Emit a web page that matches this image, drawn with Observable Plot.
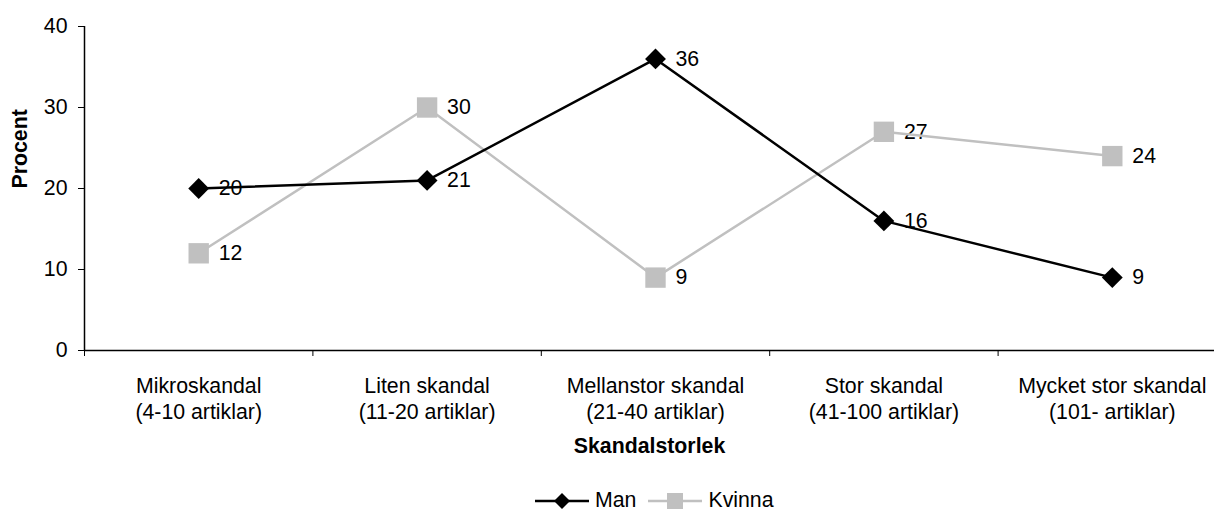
<!DOCTYPE html>
<html>
<head>
<meta charset="utf-8">
<script src="https://cdn.jsdelivr.net/npm/d3@7"></script>
<script src="https://cdn.jsdelivr.net/npm/@observablehq/plot@0.6"></script>
<style>
  html, body { margin: 0; padding: 0; background: #fff; overflow: hidden; width: 1214px; height: 513px; }
  body { font-family: "Liberation Sans", Arial, sans-serif; }
  #chart svg { display: block; }
  #legend { display: flex; align-items: center; padding-left: 535px; padding-top: 20px; height: 21px; font-size: 21.3px; line-height: 21px; color: #000; }
  #legend .item { display: flex; align-items: center; height: 21px; }
  #legend .item svg { display: block; }
  #legend .item span { margin-left: 6px; margin-right: 12px; line-height: 21px; }
</style>
</head>
<body>
<div id="chart"></div>
<div id="legend"></div>
<script>
const categories = [
  "Mikroskandal\n(4-10 artiklar)",
  "Liten skandal\n(11-20 artiklar)",
  "Mellanstor skandal\n(21-40 artiklar)",
  "Stor skandal\n(41-100 artiklar)",
  "Mycket stor skandal\n(101- artiklar)"
];
const man = [20, 21, 36, 16, 9];
const kvinna = [12, 30, 9, 27, 24];
const yTicks = [0, 10, 20, 30, 40];
const seriesNames = ["Man", "Kvinna"];
const seriesColors = ["#000000", "#c0c0c0"];
const xTitle = "Skandalstorlek";
const yTitle = "Procent";

const data = categories.map((c, i) => ({i, c, man: man[i], kvinna: kvinna[i]}));
const idx = categories.map((_, i) => i);
const boundaries = [-0.5, ...idx.map(i => i + 0.5)];

const font = "'Liberation Sans', Arial, sans-serif";
const fs = 21.3;

const chart = Plot.plot({
  width: 1214,
  height: 470,
  marginLeft: 84,
  marginRight: 0,
  marginTop: 26,
  marginBottom: 120,
  style: {fontFamily: font, fontSize: fs + "px", color: "#000", background: "#fff"},
  x: {type: "linear", domain: [-0.5, categories.length - 0.5], range: [84, 1226]},
  y: {domain: [0, 40]},
  marks: [
    Plot.axisY({ticks: yTicks, tickSize: 6, tickPadding: 11, label: null, fontSize: fs}),
    Plot.axisX({ticks: boundaries, tickSize: 6, tickFormat: () => "", label: null}),
    Plot.axisX({ticks: idx, tickSize: 0, tickPadding: 23, tickFormat: i => categories[i], lineHeight: 1.26, label: null, fontSize: fs}),
    Plot.ruleY([0], {stroke: "#000", strokeWidth: 1.5}),
    Plot.ruleX([-0.5], {stroke: "#000", strokeWidth: 1.5}),
    Plot.text(data, {x: "i", y: "kvinna", text: d => String(d.kvinna), dx: 20, textAnchor: "start", fontSize: fs, fill: "#000"}),
    Plot.text(data, {x: "i", y: "man", text: d => String(d.man), dx: 20, textAnchor: "start", fontSize: fs, fill: "#000"}),
    Plot.line(data, {x: "i", y: "kvinna", stroke: seriesColors[1], strokeWidth: 2.5}),
    Plot.dot(data, {x: "i", y: "kvinna", symbol: "square", r: 11.5, fill: seriesColors[1], stroke: "none"}),
    Plot.line(data, {x: "i", y: "man", stroke: seriesColors[0], strokeWidth: 2.5}),
    Plot.dot(data, {x: "i", y: "man", symbol: "diamond2", r: 9.4, fill: seriesColors[0], stroke: "none"}),
    Plot.text([yTitle], {frameAnchor: "left", dx: -64, rotate: -90, fontWeight: "bold", fontSize: fs, fill: "#000"}),
    Plot.text([xTitle], {frameAnchor: "bottom", lineAnchor: "middle", dy: 96, fontWeight: "bold", fontSize: fs, fill: "#000"})
  ]
});
document.getElementById("chart").appendChild(chart);

// Legend
const legend = document.getElementById("legend");
seriesNames.forEach((name, k) => {
  const item = document.createElement("div");
  item.className = "item";
  const marker = k === 0
    ? `<path d="M27,2 L35,10 L27,18 L19,10 Z" fill="${seriesColors[k]}"/>`
    : `<rect x="19" y="2" width="16" height="16" fill="${seriesColors[k]}"/>`;
  item.innerHTML = `<svg width="54" height="20"><line x1="0" x2="54" y1="10" y2="10" stroke="${seriesColors[k]}" stroke-width="2.5"/>${marker}</svg><span>${name}</span>`;
  legend.appendChild(item);
});
</script>
</body>
</html>
